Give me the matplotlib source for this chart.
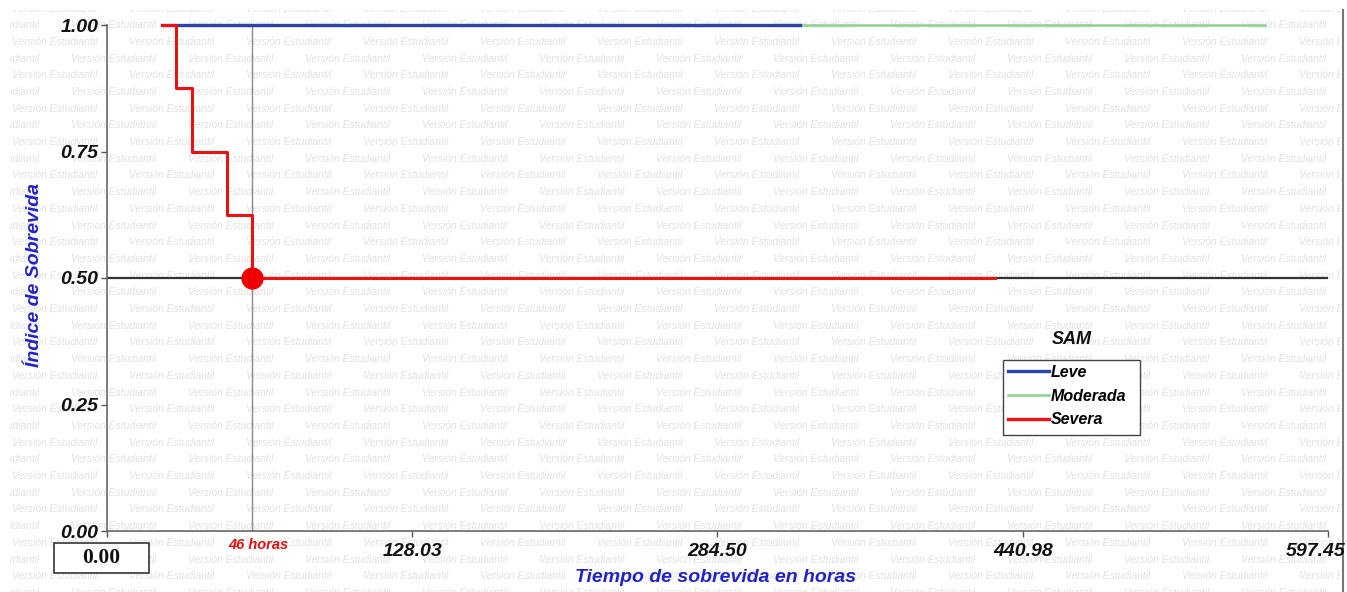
import matplotlib
matplotlib.use('Agg')
import matplotlib.pyplot as plt
from matplotlib.lines import Line2D
from matplotlib.patches import Rectangle
from matplotlib.transforms import ScaledTranslation

plt.rcParams['font.family'] = ['Liberation Sans', 'DejaVu Sans']

# Kaplan-Meier curves per SAM group (hours, survival index)
leve_t = [0, 327]
leve_s = [1.0, 1.0]
moderada_t = [0, 565]
moderada_s = [1.0, 1.0]
severa_t = [0, 7, 15, 33, 46, 427]
severa_s = [1.0, 0.875, 0.75, 0.625, 0.5, 0.5]

mediana = 46
x_ticks = [-28.44, 128.03, 284.50, 440.98, 597.45]
x_labels = ['', '128.03', '284.50', '440.98', '597.45']
y_ticks = [0.0, 0.25, 0.50, 0.75, 1.00]

W, H = 1347, 592
fig = plt.figure(figsize=(W / 100, H / 100), dpi=100)

# watermark tiled behind everything
bg = fig.add_axes([0, 0, 1, 1], zorder=-5)
bg.set_xlim(0, W)
bg.set_ylim(H, 0)
bg.axis('off')
row = 0
y = 8.5
while y < H + 10:
    x = 12 if row % 2 == 0 else 12 - 58
    while x < W:
        bg.text(x, y, 'Versión Estudiantil', fontsize=7.5, style='italic',
                color='#e2e2e2', va='center', ha='left', zorder=1)
        x += 117
    y += 16.7
    row += 1
# white margins around the watermark area
for r in [(0, 0, W, 10), (0, 0, 10, H), (1340, 0, W - 1340, H)]:
    bg.add_patch(Rectangle((r[0], r[1]), r[2], r[3], fc='white', ec='none', zorder=5))
bg.plot([1343, 1343], [10, H], color='#777777', lw=1.5, zorder=6)
# legend frame
bg.add_patch(Rectangle((1003, 360), 137, 75, fc='white', ec='#444444', lw=1.0, zorder=7))

ax = fig.add_axes([107 / W, 61 / H, 1221 / W, 506 / H], facecolor='none')
ax.set_xlim(x_ticks[0], x_ticks[-1])
ax.set_ylim(0, 1)

# reference lines
ax.axhline(0.5, color='#333333', lw=1.6, zorder=2)
ax.plot([mediana, mediana], [0, 1], color='#8a8a8a', lw=1.0, zorder=1)

ax.plot(moderada_t, moderada_s, color='#8fd08f', lw=1.8, zorder=3, clip_on=False)
ax.plot(leve_t, leve_s, color='#2a44a8', lw=2.4, zorder=4, clip_on=False)
ax.step(severa_t, severa_s, where='post', color='#ee1111', lw=2.2, zorder=5, clip_on=False)
ax.plot([mediana], [0.5], 'o', color='#ee0000', ms=15, zorder=6)

for s in ['top', 'right']:
    ax.spines[s].set_visible(False)
for s in ['left', 'bottom']:
    ax.spines[s].set_color('#666666')
    ax.spines[s].set_linewidth(1.2)

ax.set_xticks(x_ticks)
ax.set_xticklabels(x_labels)
ax.set_yticks(y_ticks)
ax.set_yticklabels(['%.2f' % v for v in y_ticks])
ax.tick_params(axis='both', colors='#555555', length=4, width=1)
ax.tick_params(axis='y', pad=2)
ax.tick_params(axis='x', pad=5)
for lab in ax.get_yticklabels() + ax.get_xticklabels():
    lab.set_fontsize(14)
    lab.set_fontweight('bold')
    lab.set_fontstyle('italic')
    lab.set_color('#111111')
last = ax.get_xticklabels()[-1]
last.set_transform(last.get_transform() + ScaledTranslation(-0.12, 0, fig.dpi_scale_trans))

# boxed origin value
fig.patches.append(Rectangle((54 / W, 1 - 573 / H), 95 / W, 30 / H, transform=fig.transFigure,
                             fc='white', ec='#333333', lw=1.2, figure=fig))
fig.text(101 / W, 1 - 558 / H, '0.00', fontsize=15.5, family='Liberation Serif',
         fontweight='bold', ha='center', va='center', color='#111111')
fig.text(258 / W, 1 - 545 / H, '%d horas' % mediana, fontsize=10.5, color='#e01010',
         fontweight='bold', style='italic', ha='center', va='center')

fig.text(716 / W, 1 - 577 / H, 'Tiempo de sobrevida en horas', fontsize=14,
         color='#2222cc', fontweight='bold', style='italic', ha='center', va='center')
fig.text(35 / W, 1 - 275 / H, 'Índice de Sobrevida', fontsize=14, rotation=90,
         color='#2222cc', fontweight='bold', style='italic', ha='center', va='center')

handles = [Line2D([], [], color='#2a44a8', lw=2.4),
           Line2D([], [], color='#8fd08f', lw=1.8),
           Line2D([], [], color='#ee1111', lw=2.4)]
leg = fig.legend(handles, ['Leve', 'Moderada', 'Severa'], loc='upper left',
                 bbox_to_anchor=(1003 / W, 1 - 360 / H), borderaxespad=0,
                 frameon=False,
                 prop=dict(size=11.5, weight='bold', style='italic'),
                 handlelength=2.6, handletextpad=0.1, labelspacing=0.55,
                 borderpad=0.3)
fig.text(1072 / W, 1 - 340 / H, 'SAM', fontsize=13, fontweight='bold',
         style='italic', ha='center', va='center', color='#111111')

fig.savefig('out.png', dpi=100)
